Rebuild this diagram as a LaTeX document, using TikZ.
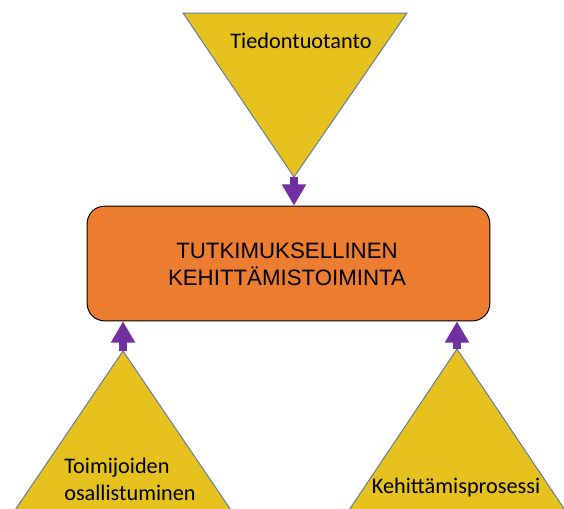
\documentclass[tikz,border=0pt]{standalone}
\usepackage{fontspec}
\setmainfont{Liberation Sans}
\newfontfamily\calib{Carlito}
\usetikzlibrary{arrows.meta}
\definecolor{triyellow}{RGB}{230,194,30}
\definecolor{triedge}{RGB}{100,125,155}
\definecolor{boxorange}{RGB}{237,125,49}
\definecolor{arrowpurple}{RGB}{112,48,160}
\begin{document}
\begin{tikzpicture}[x=0.75pt,y=-0.75pt,
  tri/.style={fill=triyellow,draw=triedge,line width=0.75pt,line join=miter},
  blockarrow/.style={draw=arrowpurple,line width=6pt,line cap=butt,
    -{Triangle[width=17.25pt,length=16pt]}},
  tritext/.style={font=\calib\fontsize{16.7pt}{20.25pt}\selectfont,inner sep=0pt},
  boxtext/.style={font=\fontsize{16.7pt}{20.25pt}\selectfont,align=center,inner sep=0pt}]
\useasboundingbox (0,0) rectangle (564,508);
\begin{scope}
\clip (0,0) rectangle (564,508);
% top triangle
\coordinate (t1) at (183,13);
\coordinate (t2) at (407,13);
\coordinate (ta) at (294,177);
\path[tri] (t1) -- (t2) -- (ta) -- cycle;
% bottom left triangle
\coordinate (la) at (123,351);
\coordinate (l1) at (11,516);
\coordinate (l2) at (235,516);
\path[tri] (la) -- (l2) -- (l1) -- cycle;
% bottom right triangle
\coordinate (ra) at (457,349);
\coordinate (r1) at (345,516);
\coordinate (r2) at (569,516);
\path[tri] (ra) -- (r2) -- (r1) -- cycle;
\end{scope}
% central box
\node[draw=black,line width=0.75pt,fill=boxorange,rounded corners=13pt,
  minimum width=302pt,minimum height=86pt,inner sep=0pt] (box) at (288.5,263.5) {};
\node[boxtext] (boxlabel) at (287,264.5) {TUTKIMUKSELLINEN\\KEHITTÄMISTOIMINTA};
% labels
\node[tritext] (toplabel) at (301,41) {Tiedontuotanto};
\node[tritext,align=left] (leftlabel) at (130,479) {Toimijoiden\\osallistuminen};
\node[tritext] (rightlabel) at (456,488) {Kehittämisprosessi};
% arrows
\draw[blockarrow] (ta) -- (ta |- box.north);
\draw[blockarrow] (la) -- (la |- box.south);
\draw[blockarrow] (ra) -- (ra |- box.south);
\end{tikzpicture}
\end{document}
